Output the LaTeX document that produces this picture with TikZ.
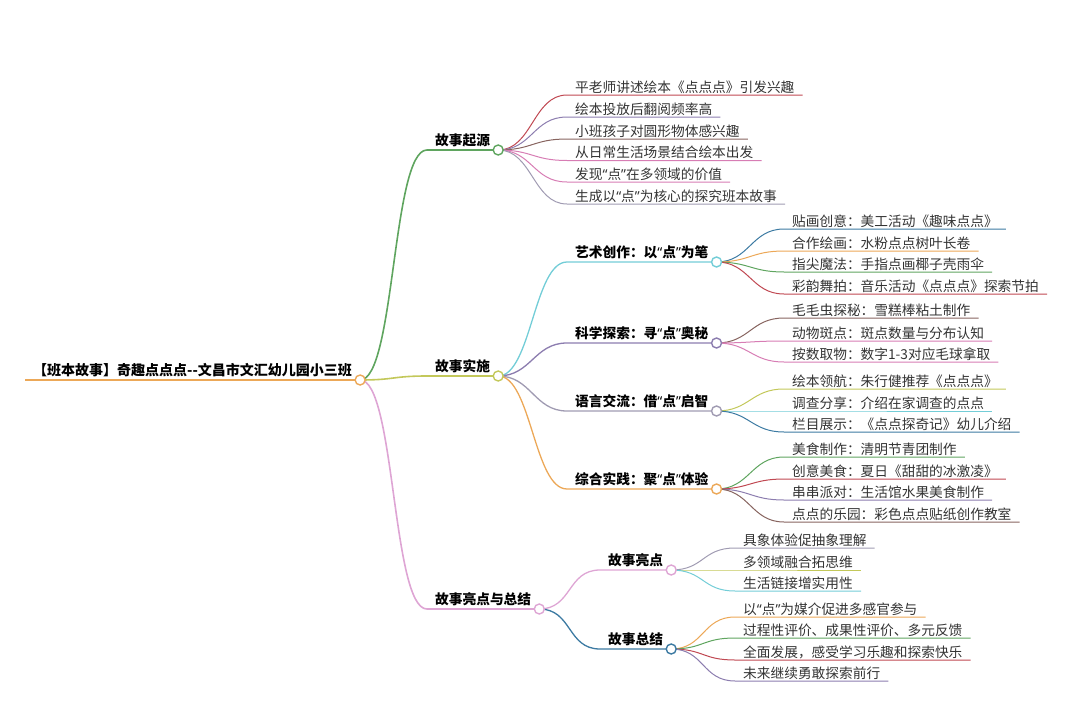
\documentclass[tikz,border=0pt]{standalone}
\usepackage{fontspec}
\newfontfamily\cjk{Noto Sans CJK SC}
\newfontfamily\latinq{Noto Sans}
\newcommand\qo{{\latinq “}}
\newcommand\qc{{\latinq ”}}

\definecolor{mmorange}{RGB}{236,168,88}
\definecolor{mmgreen}{RGB}{95,165,95}
\definecolor{mmolive}{RGB}{195,200,90}
\definecolor{mmpink}{RGB}{222,165,212}
\definecolor{mmcyan}{RGB}{115,205,215}
\definecolor{mmpurple}{RGB}{140,125,175}
\definecolor{mmgray}{RGB}{160,155,178}
\definecolor{mmblue}{RGB}{60,122,162}
\definecolor{mmred}{RGB}{192,72,82}
\definecolor{mmbrown}{RGB}{135,100,95}
\definecolor{mmrose}{RGB}{215,125,180}

\tikzset{
	mmtext/.style={anchor=south west, inner xsep=8pt, inner ysep=0pt,
		font=\cjk\fontsize{13.7}{16}\selectfont, text=black!80},
	leaf/.style={mmtext, text depth=2.7pt},
	topic/.style={mmtext, text depth=4pt, text=black,
		font=\cjk\bfseries\fontsize{13.7}{16}\selectfont},
	mmlink/.style={line width=1pt},
	mmdot/.style={line width=1.4pt, fill=white},
}

\begin{document}
\begin{tikzpicture}[x=1pt, y=-1pt]

				\useasboundingbox (0,0) rectangle (1080,720);

				% main topics
				\node[topic, font=\cjk\bfseries\fontsize{14}{16}\selectfont] (root) at (25,380) {【班本故事】奇趣点点点--文昌市文汇幼儿园小三班};
				\node[topic] (qiyuan) at (427,150) {故事起源};
				\node[topic] (shishi) at (427,376) {故事实施};
				\node[topic] (liangzong) at (427,609) {故事亮点与总结};

				\node[topic] (yishu) at (567,262) {艺术创作：以\qo 点\qc 为笔};
				\node[topic] (kexue) at (567,343) {科学探索：寻\qo 点\qc 奥秘};
				\node[topic] (yuyan) at (567,411) {语言交流：借\qo 点\qc 启智};
				\node[topic] (zonghe) at (567,489) {综合实践：聚\qo 点\qc 体验};
				\node[topic] (liangdian) at (600,570) {故事亮点};
				\node[topic] (zongjie) at (600,649) {故事总结};

				\draw[mmorange, line width=2pt] (root.south west) -- (root.south east);
				\foreach \p/\c/\col in {root/qiyuan/mmgreen, root/shishi/mmolive, root/liangzong/mmpink}
				{
					\draw[mmlink, line width=1.6pt, \col] (\p.south east) .. controls +(35,0) and +(-35,0) .. (\c.south west) -- (\c.south east);
				}
				\foreach \p/\c/\col in {shishi/yishu/mmcyan, shishi/kexue/mmpurple, shishi/yuyan/mmgray,
					shishi/zonghe/mmorange, liangzong/liangdian/mmpink, liangzong/zongjie/mmblue}
				{
					\draw[mmlink, line width=1.3pt, \col] (\p.south east) .. controls +(33,0) and +(-33,0) .. (\c.south west) -- (\c.south east);
				}

				% leaves
				\foreach \txt/\yy/\col [count=\i] in {平老师讲述绘本《点点点》引发兴趣/95/mmred,
					绘本投放后翻阅频率高/117/mmpurple, 小班孩子对圆形物体感兴趣/139/mmbrown,
					从日常生活场景结合绘本出发/160.5/mmrose, 发现\qo 点\qc 在多领域的价值/182/mmrose,
					生成以\qo 点\qc 为核心的探究班本故事/204/mmgray}
				{
					\node[leaf] (qiyuan\i) at (567,\yy) {\txt};
					\draw[mmlink, \col] (qiyuan.south east) .. controls +(34,0) and +(-34,0) .. (qiyuan\i.south west) -- (qiyuan\i.south east);
				}
				\foreach \txt/\yy/\col [count=\i] in {贴画创意：美工活动《趣味点点》/229/mmblue,
					合作绘画：水粉点点树叶长卷/251/mmorange, 指尖魔法：手指点画椰子壳雨伞/272/mmgreen,
					彩韵舞拍：音乐活动《点点点》探索节拍/294/mmred}
				{
					\node[leaf] (yishu\i) at (784,\yy) {\txt};
					\draw[mmlink, \col] (yishu.south east) .. controls +(33,0) and +(-33,0) .. (yishu\i.south west) -- (yishu\i.south east);
				}
				\foreach \txt/\yy/\col [count=\i] in {毛毛虫探秘：雪糕棒粘土制作/318/mmbrown,
					动物斑点：斑点数量与分布认知/341/mmrose, 按数取物：数字1-3对应毛球拿取/362/mmrose}
				{
					\node[leaf] (kexue\i) at (784,\yy) {\txt};
					\draw[mmlink, \col] (kexue.south east) .. controls +(33,0) and +(-33,0) .. (kexue\i.south west) -- (kexue\i.south east);
				}
				\foreach \txt/\yy/\col [count=\i] in {绘本领航：朱行健推荐《点点点》/389/mmolive,
					调查分享：介绍在家调查的点点/411/mmcyan, 栏目展示：《点点探奇记》幼儿介绍/432/mmblue}
				{
					\node[leaf] (yuyan\i) at (784,\yy) {\txt};
					\draw[mmlink, \col] (yuyan.south east) .. controls +(33,0) and +(-33,0) .. (yuyan\i.south west) -- (yuyan\i.south east);
				}
				\foreach \txt/\yy/\col [count=\i] in {美食制作：清明节青团制作/457/mmgreen,
					创意美食：夏日《甜甜的冰激凌》/479/mmred, 串串派对：生活馆水果美食制作/500/mmpurple,
					点点的乐园：彩色点点贴纸创作教室/522/mmbrown}
				{
					\node[leaf] (zonghe\i) at (784,\yy) {\txt};
					\draw[mmlink, \col] (zonghe.south east) .. controls +(33,0) and +(-33,0) .. (zonghe\i.south west) -- (zonghe\i.south east);
				}
				\foreach \txt/\yy/\col [count=\i] in {具象体验促抽象理解/548/mmgray,
					多领域融合拓思维/570/mmolive, 生活链接增实用性/591/mmcyan}
				{
					\node[leaf] (liangdian\i) at (735,\yy) {\txt};
					\draw[mmlink, \col] (liangdian.south east) .. controls +(33,0) and +(-33,0) .. (liangdian\i.south west) -- (liangdian\i.south east);
				}
				\foreach \txt/\yy/\col [count=\i] in {以\qo 点\qc 为媒介促进多感官参与/617/mmorange,
					过程性评价、成果性评价、多元反馈/638/mmgreen, 全面发展，感受学习乐趣和探索快乐/660/mmred,
					未来继续勇敢探索前行/681/mmpurple}
				{
					\node[leaf] (zongjie\i) at (735,\yy) {\txt};
					\draw[mmlink, \col] (zongjie.south east) .. controls +(33,0) and +(-33,0) .. (zongjie\i.south west) -- (zongjie\i.south east);
				}

				% circles on top
				\foreach \n/\col in {root/mmorange, qiyuan/mmgreen, shishi/mmolive, liangzong/mmpink,
					yishu/mmcyan, kexue/mmpurple, yuyan/mmgray, zonghe/mmorange, liangdian/mmpink, zongjie/mmblue}
				{
					\filldraw[mmdot, draw=\col] (\n.south east) circle[radius=5];
				}
\end{tikzpicture}
\end{document}
